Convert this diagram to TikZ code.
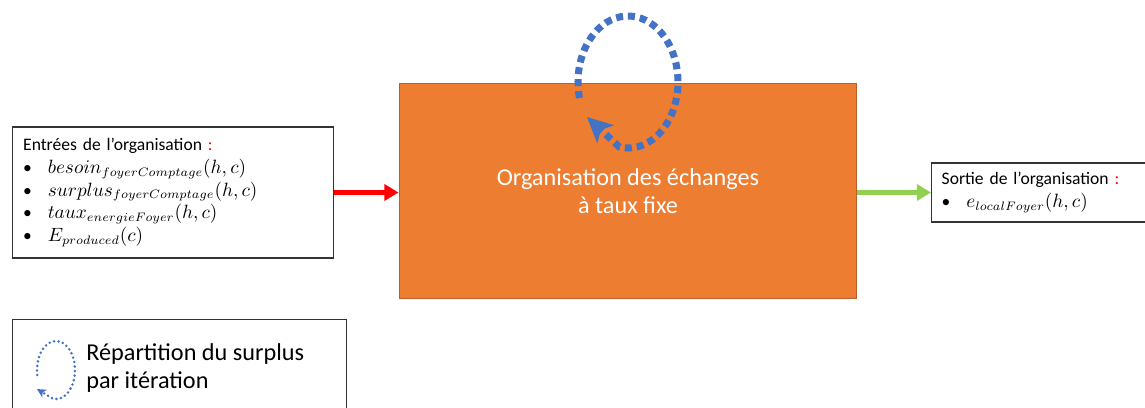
\documentclass[tikz,border=0pt]{standalone}
\usepackage{fontspec}
\setmainfont{Carlito}
\usetikzlibrary{arrows.meta,positioning}
\definecolor{orangebox}{HTML}{ED7D31}
\definecolor{orangeborder}{HTML}{B4612A}
\definecolor{bleuboucle}{HTML}{4472C4}
\definecolor{vertfleche}{HTML}{92D050}
\tikzset{
  cadre/.style={draw=black!80, line width=0.8pt, fill=white, align=left, anchor=west},
  bloc/.style={draw=orangeborder, fill=orangebox, line width=0.6pt, text=white,
    align=center, minimum width=9.16cm, minimum height=4.3cm,
    font=\fontsize{13.8}{16.3}\selectfont},
  fleche/.style={line width=2.3pt, -{Triangle[length=8pt,width=9pt]}},
  boucle/.style={bleuboucle, line width=4pt, dash pattern=on 4pt off 2.8pt,
    -{Stealth[length=0.5cm,width=0.48cm,inset=0.12cm]}},
  petiteboucle/.style={bleuboucle, line width=1.6pt, line cap=round,
    dash pattern=on 0pt off 2.6pt, -{Stealth[length=5pt,width=5pt,inset=1.3pt]}},
}
\newcommand{\puce}{\makebox[14pt][l]{\textbullet}}
\newcommand{\formule}[1]{{\fontsize{10.7}{13}\selectfont$#1$}}
\begin{document}
\begin{tikzpicture}[x=0.02cm, y=-0.02cm]
  \useasboundingbox (0,0) rectangle (1145,407);
  % bloc central
  \node[bloc] (orga) at (628,191) {Organisation des échanges\\à taux fixe};
  % entrees
  \node[cadre, minimum width=6.42cm, minimum height=2.62cm, text width=6.0cm,
    font=\fontsize{10}{13}\selectfont] (entrees) at (12,192.5)
    {Entrées de l’organisation {\color{red}:}\\
     \puce \formule{besoin_{foyerComptage}(h,c)}\\
     \puce \formule{surplus_{foyerComptage}(h,c)}\\
     \puce \formule{taux_{energieFoyer}(h,c)}\\
     \puce \formule{E_{produced}(c)}};
  % sortie
  \node[cadre, minimum width=5.2cm, minimum height=1.18cm, text width=4.8cm,
    font=\fontsize{10}{13}\selectfont] (sortie) at (931,192.5)
    {Sortie de l’organisation {\color{red}:}\\
     \puce \formule{e_{localFoyer}(h,c)}};
  % legende
  \node[cadre, minimum width=6.68cm, minimum height=2.1cm] (legende) at (12,372) {};
  \node[anchor=west, align=left, font=\fontsize{13.8}{16}\selectfont, inner sep=0pt]
    (legtexte) at (86,368) {Répartition du surplus\\par itération};
  \draw[red, fleche] (entrees.east) -- (entrees.east -| orga.west);
  \draw[vertfleche, fleche] (orga.east |- sortie.west) -- (sortie.west);
  % boucles
  \coordinate (centre) at (628,82);
  \draw[boucle] (centre) ++(194:1cm and 1.32cm)
    arc[start angle=194, end angle=-100, x radius=1cm, y radius=1.32cm]
    -- (587,117);
  \coordinate (petitcentre) at (56,370);
  \draw[petiteboucle] (petitcentre) ++(190:0.38cm and 0.58cm)
    arc[start angle=190, end angle=-100, x radius=0.38cm, y radius=0.58cm]
    -- (37,389);
\end{tikzpicture}
\end{document}
